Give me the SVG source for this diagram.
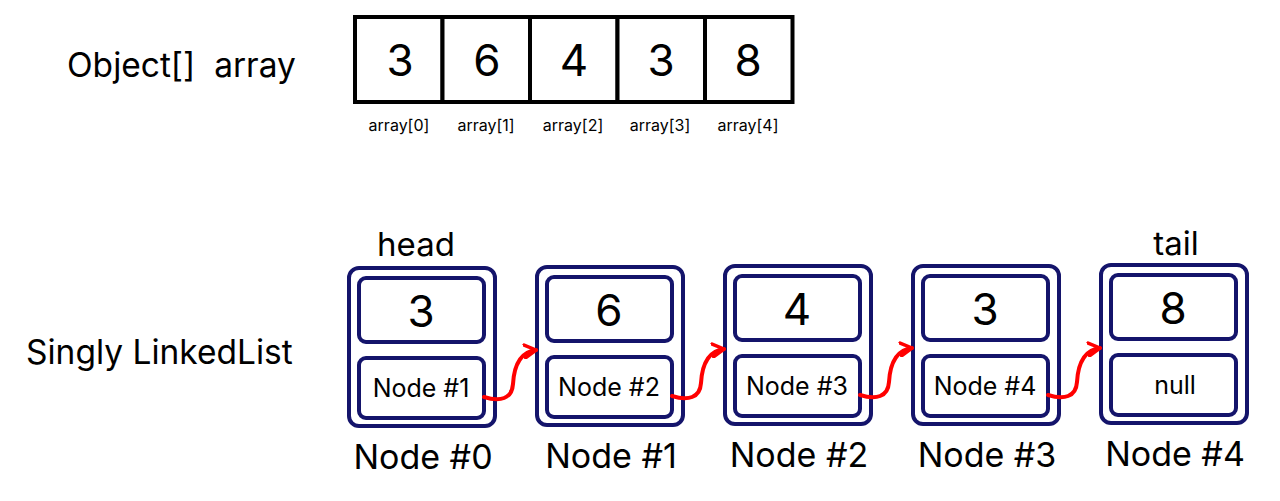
<svg xmlns="http://www.w3.org/2000/svg" width="1280" height="501" viewBox="0 0 1280 501">
<defs>
<style>
text{font-family:Inter,"Noto Sans","Liberation Sans",sans-serif;fill:#000;text-anchor:middle;font-weight:400}
.cell{fill:#fff;stroke:#000;stroke-width:4}
.big{font-size:44px}
.idx{font-size:16px}
.title{font-size:33.5px;text-anchor:start;white-space:pre}
.outer{fill:#fff;stroke:#14146b;stroke-width:4}
.inner{fill:#fff;stroke:#14146b;stroke-width:4}
.ref{font-size:25px}
.cap{font-size:34px}
.ptr{font-size:33px}
.link{fill:none;stroke:#ff0000;stroke-width:4;stroke-linecap:round}
</style>
<marker id="ah" viewBox="0 0 10 10" refX="8" refY="5" markerWidth="4" markerHeight="4" orient="auto" markerUnits="strokeWidth">
<path d="M1,1 L8,5 L1,9" fill="none" stroke="#ff0000" stroke-width="2.2" stroke-linecap="round" stroke-linejoin="round"/>
</marker>
</defs>
<rect width="1280" height="501" fill="#fff"/>
<text class="title" x="67" y="77" xml:space="preserve">Object[]  array</text>
<text class="title" x="26" y="364">Singly LinkedList</text>
<g id="array">
<rect class="cell" x="355" y="17" width="87.5" height="85"/>
<rect class="cell" x="442.5" y="17" width="87.5" height="85"/>
<rect class="cell" x="530" y="17" width="87.5" height="85"/>
<rect class="cell" x="617.5" y="17" width="87.5" height="85"/>
<rect class="cell" x="705" y="17" width="87.5" height="85"/>
<text class="big" x="400" y="76">3</text>
<text class="big" x="487" y="76">6</text>
<text class="big" x="574" y="76">4</text>
<text class="big" x="661" y="76">3</text>
<text class="big" x="748" y="76">8</text>
<text class="idx" x="399" y="131">array[0]</text>
<text class="idx" x="486" y="131">array[1]</text>
<text class="idx" x="573" y="131">array[2]</text>
<text class="idx" x="660" y="131">array[3]</text>
<text class="idx" x="748" y="131">array[4]</text>
</g>
<g id="node0">
<text class="ptr" x="416" y="256">head</text>
<rect class="outer" x="349" y="268" width="146" height="158" rx="10"/>
<rect class="inner" x="359" y="278" width="125" height="64" rx="7"/>
<rect class="inner" x="359" y="358" width="125" height="60" rx="7"/>
<text class="big" x="421" y="327">3</text>
<text class="ref" x="421" y="397">Node #1</text>
<text class="cap" x="423" y="469">Node #0</text>
</g>
<g id="node1">
<rect class="outer" x="537" y="267" width="146" height="158" rx="10"/>
<rect class="inner" x="547" y="277" width="125" height="64" rx="7"/>
<rect class="inner" x="547" y="357" width="125" height="60" rx="7"/>
<text class="big" x="609" y="326">6</text>
<text class="ref" x="609" y="396">Node #2</text>
<text class="cap" x="611" y="468">Node #1</text>
</g>
<g id="node2">
<rect class="outer" x="725" y="266" width="146" height="158" rx="10"/>
<rect class="inner" x="735" y="276" width="125" height="64" rx="7"/>
<rect class="inner" x="735" y="356" width="125" height="60" rx="7"/>
<text class="big" x="797" y="325">4</text>
<text class="ref" x="797" y="395">Node #3</text>
<text class="cap" x="799" y="467">Node #2</text>
</g>
<g id="node3">
<rect class="outer" x="913" y="266" width="146" height="158" rx="10"/>
<rect class="inner" x="923" y="276" width="125" height="64" rx="7"/>
<rect class="inner" x="923" y="356" width="125" height="60" rx="7"/>
<text class="big" x="985" y="325">3</text>
<text class="ref" x="985" y="395">Node #4</text>
<text class="cap" x="987" y="467">Node #3</text>
</g>
<g id="node4">
<text class="ptr" x="1176" y="255">tail</text>
<rect class="outer" x="1101" y="265" width="146" height="158" rx="10"/>
<rect class="inner" x="1111" y="275" width="125" height="64" rx="7"/>
<rect class="inner" x="1111" y="355" width="125" height="60" rx="7"/>
<text class="big" x="1173" y="324">8</text>
<text class="ref" x="1175" y="394">null</text>
<text class="cap" x="1175" y="466">Node #4</text>
</g>
<g id="connectors">
<path class="link" marker-end="url(#ah)" d="M484,397 C500,402 512,399 513,384 C514,366 520,352 536,350"/>
<path class="link" marker-end="url(#ah)" d="M672,396 C688,401 700,398 701,383 C702,365 708,351 724,349"/>
<path class="link" marker-end="url(#ah)" d="M860,395 C876,400 888,397 889,382 C890,364 896,350 912,348"/>
<path class="link" marker-end="url(#ah)" d="M1048,395 C1064,400 1076,397 1077,382 C1078,364 1084,350 1100,348"/>
</g>
</svg>
